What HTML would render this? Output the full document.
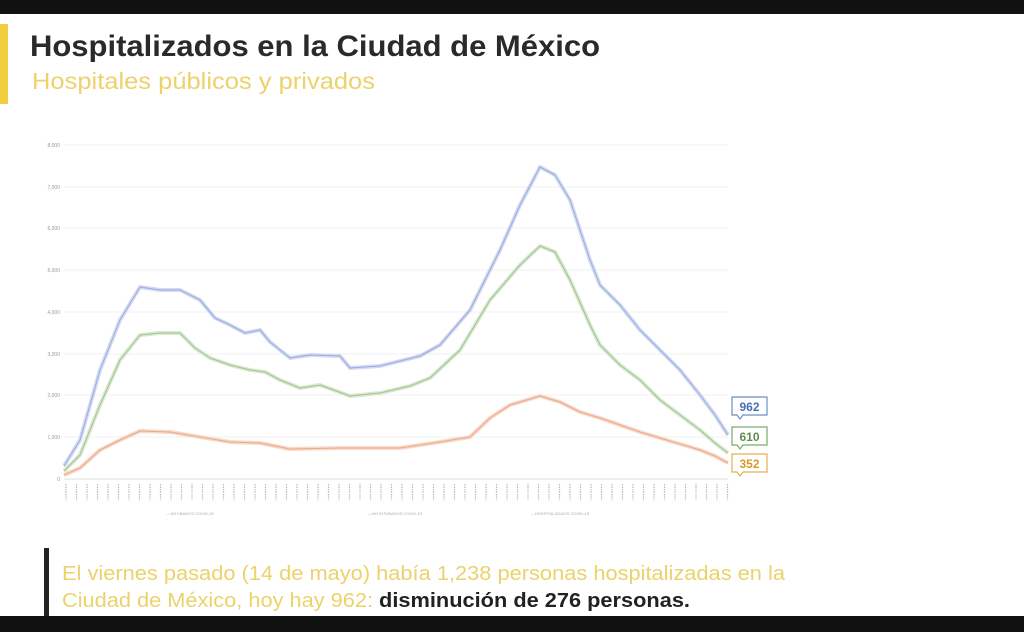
<!DOCTYPE html>
<html><head><meta charset="utf-8"><style>
body{margin:0;width:1024px;height:632px;background:#fff;position:relative;overflow:hidden;font-family:"Liberation Sans",sans-serif}
.bar{position:absolute;left:0;width:1024px;background:#111}
</style></head><body>
<div class="bar" style="top:0;height:14px"></div>
<div class="bar" style="top:616px;height:16px"></div>
<div style="position:absolute;left:0;top:24px;width:8px;height:80px;background:#f2cd3c"></div>
<div style="position:absolute;left:44px;top:548px;width:5px;height:68px;background:#222"></div>
<svg width="1024" height="632" style="position:absolute;left:0;top:0">
<text x="30" y="56" font-size="30" font-weight="bold" fill="#2a2a2a" textLength="570" lengthAdjust="spacingAndGlyphs">Hospitalizados en la Ciudad de México</text>
<text x="32" y="89" font-size="23" fill="#ecd26a" textLength="343" lengthAdjust="spacingAndGlyphs">Hospitales públicos y privados</text>
<g font-size="20" font-family="Liberation Sans" fill="#ecd26a">
<text x="62" y="580" textLength="723" lengthAdjust="spacingAndGlyphs">El viernes pasado (14 de mayo) había 1,238 personas hospitalizadas en la</text>
<text x="62" y="607" textLength="628" lengthAdjust="spacingAndGlyphs">Ciudad de México, hoy hay 962: <tspan fill="#222" font-weight="bold">disminución de 276 personas.</tspan></text>
</g>
<g stroke="#f0f0f0" stroke-width="1">
<line x1="64" y1="479" x2="728" y2="479" stroke="#ddd"/><line x1="64" y1="437" x2="728" y2="437"/><line x1="64" y1="395" x2="728" y2="395"/><line x1="64" y1="354" x2="728" y2="354"/><line x1="64" y1="312" x2="728" y2="312"/><line x1="64" y1="270" x2="728" y2="270"/><line x1="64" y1="228" x2="728" y2="228"/><line x1="64" y1="187" x2="728" y2="187"/><line x1="64" y1="145" x2="728" y2="145"/>
</g>
<g font-size="5" fill="#999" text-anchor="end">
<text x="60" y="481">0</text><text x="60" y="439">1,000</text><text x="60" y="397">2,000</text><text x="60" y="356">3,000</text><text x="60" y="314">4,000</text><text x="60" y="272">5,000</text><text x="60" y="230">6,000</text><text x="60" y="189">7,000</text><text x="60" y="147">8,000</text>
</g>
<g id="ticks" stroke="#bbb" stroke-width="1.2" stroke-dasharray="1.5 1"></g>
<g font-size="4" fill="#aaa" text-anchor="middle">
<text x="190" y="515">—INTUBADOS COVID-19</text><text x="395" y="515">—NO INTUBADOS COVID-19</text><text x="560" y="515">—HOSPITALIZADOS COVID-19</text>
</g>
<g fill="none" stroke-linejoin="round">
<polyline stroke="#d3dbf3" stroke-width="4" points="64,466 80,440 100,370 120,320 140,287 160,290 180,290 200,300 215,318 230,325 245,333 260,330 270,342 290,358 310,355 340,356 350,368 380,366 420,356 440,345 470,310 500,250 520,205 540,167 555,175 570,200 590,260 600,285 620,305 640,330 660,350 680,370 700,395 715,415 728,435"/>
<polyline stroke="#9aaade" stroke-width="1" points="64,466 80,440 100,370 120,320 140,287 160,290 180,290 200,300 215,318 230,325 245,333 260,330 270,342 290,358 310,355 340,356 350,368 380,366 420,356 440,345 470,310 500,250 520,205 540,167 555,175 570,200 590,260 600,285 620,305 640,330 660,350 680,370 700,395 715,415 728,435"/>
<polyline stroke="#d9eacf" stroke-width="4" points="64,471 80,455 100,405 120,360 140,335 160,333 180,333 195,348 210,358 230,365 250,370 265,372 280,380 300,388 320,385 350,396 380,393 410,386 430,378 460,350 490,300 520,265 540,246 555,252 570,280 590,325 600,345 620,365 640,380 660,400 680,415 700,430 715,443 728,453"/>
<polyline stroke="#9fc194" stroke-width="1" points="64,471 80,455 100,405 120,360 140,335 160,333 180,333 195,348 210,358 230,365 250,370 265,372 280,380 300,388 320,385 350,396 380,393 410,386 430,378 460,350 490,300 520,265 540,246 555,252 570,280 590,325 600,345 620,365 640,380 660,400 680,415 700,430 715,443 728,453"/>
<polyline stroke="#f8d8c8" stroke-width="4" points="64,475 80,468 100,450 120,440 140,431 170,432 200,437 230,442 260,443 290,449 340,448 400,448 440,442 470,437 490,418 510,405 540,396 560,402 580,412 600,418 620,425 640,432 660,438 680,444 700,450 715,456 728,463"/>
<polyline stroke="#eba88a" stroke-width="1" points="64,475 80,468 100,450 120,440 140,431 170,432 200,437 230,442 260,443 290,449 340,448 400,448 440,442 470,437 490,418 510,405 540,396 560,402 580,412 600,418 620,425 640,432 660,438 680,444 700,450 715,456 728,463"/>
</g>
<g font-size="12" font-weight="bold" text-anchor="middle" stroke-width="1.2">
<path d="M732,397h35v18h-24l-3,4l-3,-4h-5z" fill="#fff" stroke="#6b8fc7"/><text x="749.5" y="411" fill="#4a70b0">962</text>
<path d="M732,427h35v18h-24l-3,4l-3,-4h-5z" fill="#fff" stroke="#7daa6a"/><text x="749.5" y="441" fill="#5f8f4e">610</text>
<path d="M732,454h35v18h-24l-3,4l-3,-4h-5z" fill="#fff" stroke="#e5b04a"/><text x="749.5" y="468" fill="#d59a2e">352</text>
</g>
</svg>
<script>
var g=document.getElementById('ticks'),s='';
for(var x=66;x<=728;x+=10.5){s+='<line x1="'+x.toFixed(1)+'" y1="484" x2="'+x.toFixed(1)+'" y2="500"/>';}
g.innerHTML=s;
</script>
</body></html>
